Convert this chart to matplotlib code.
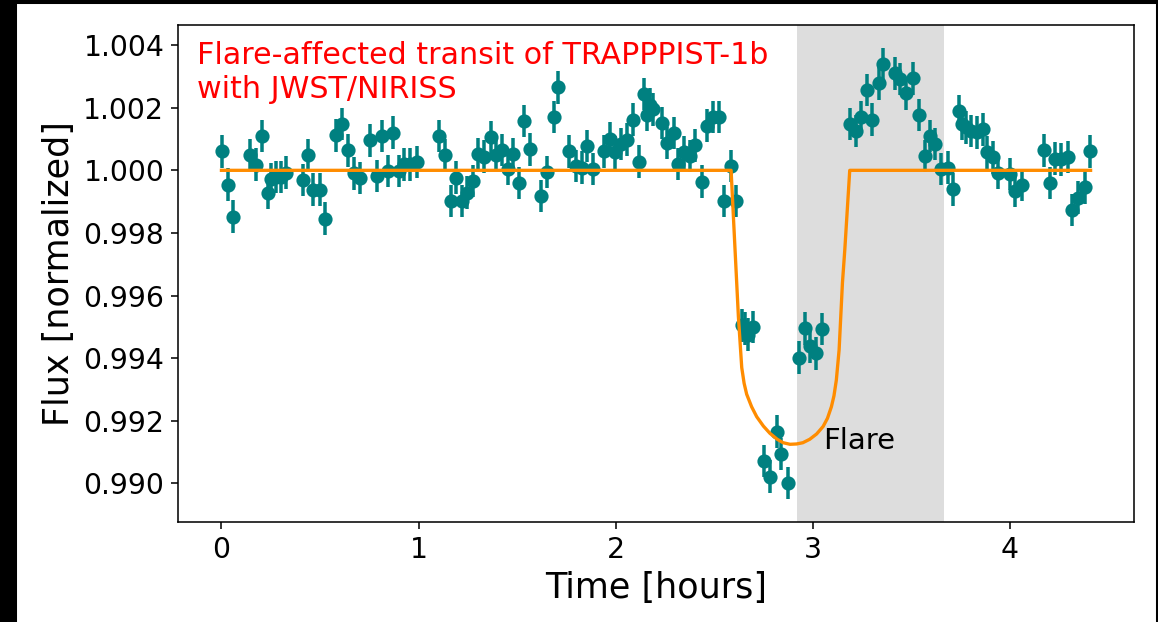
import matplotlib
matplotlib.use("Agg")
import matplotlib.pyplot as plt
from matplotlib.patches import Rectangle

time_hr = [
    0.004, 0.034, 0.059, 0.147, 0.177, 0.206, 0.236, 0.253, 0.278, 0.304,
    0.329, 0.413, 0.439, 0.467, 0.498, 0.523, 0.580, 0.612, 0.641, 0.672,
    0.702, 0.756, 0.788, 0.813, 0.844, 0.870, 0.902, 0.928, 0.958, 0.993,
    1.105, 1.134, 1.164, 1.191, 1.223, 1.248, 1.274, 1.302, 1.333, 1.366,
    1.395, 1.426, 1.454, 1.481, 1.510, 1.535, 1.565, 1.623, 1.653, 1.687,
    1.709, 1.761, 1.797, 1.830, 1.856, 1.886, 1.940, 1.974, 1.999, 2.028,
    2.058, 2.089, 2.119, 2.146, 2.161, 2.176, 2.191, 2.235, 2.260, 2.294,
    2.319, 2.348, 2.379, 2.404, 2.437, 2.463, 2.493, 2.527, 2.551, 2.585,
    2.611, 2.640, 2.655, 2.670, 2.699, 2.755, 2.783, 2.817, 2.839, 2.873,
    2.930, 2.960, 2.986, 3.016, 3.047, 3.188, 3.219, 3.247, 3.276, 3.303,
    3.337, 3.357, 3.416, 3.445, 3.475, 3.509, 3.537, 3.568, 3.593, 3.623,
    3.652, 3.685, 3.711, 3.740, 3.758, 3.779, 3.804, 3.833, 3.863, 3.883,
    3.914, 3.942, 4.001, 4.028, 4.060, 4.175, 4.204, 4.231, 4.259, 4.293,
    4.318, 4.344, 4.383, 4.406,
]
flux = [
    1.00061, 0.99954, 0.99852, 1.00049, 1.00018, 1.00110, 0.99929, 0.99971, 0.99978, 0.99978,
    0.99993, 0.99969, 1.00049, 0.99938, 0.99938, 0.99846, 1.00112, 1.00148, 1.00064, 0.99990,
    0.99975, 1.00096, 0.99982, 1.00110, 0.99998, 1.00120, 0.99998, 1.00019, 1.00019, 1.00026,
    1.00110, 1.00049, 0.99902, 0.99977, 0.99902, 0.99929, 0.99966, 1.00051, 1.00044, 1.00105,
    1.00049, 1.00065, 1.00004, 1.00052, 0.99959, 1.00157, 1.00067, 0.99918, 0.99995, 1.00171,
    1.00265, 1.00061, 1.00014, 1.00009, 1.00078, 1.00004, 1.00061, 1.00101, 1.00057, 1.00084,
    1.00098, 1.00162, 1.00028, 1.00244, 1.00178, 1.00210, 1.00195, 1.00151, 1.00087, 1.00119,
    1.00020, 1.00057, 1.00046, 1.00080, 0.99964, 1.00143, 1.00170, 1.00170, 0.99902, 1.00014,
    0.99902, 0.99505, 0.99495, 0.99475, 0.99500, 0.99072, 0.99022, 0.99165, 0.99094, 0.99001,
    0.99402, 0.99495, 0.99438, 0.99415, 0.99493, 1.00148, 1.00126, 1.00170, 1.00257, 1.00162,
    1.00278, 1.00340, 1.00310, 1.00291, 1.00246, 1.00294, 1.00177, 1.00046, 1.00110, 1.00084,
    1.00004, 1.00009, 0.99939, 1.00190, 1.00148, 1.00137, 1.00126, 1.00121, 1.00131, 1.00057,
    1.00041, 0.99991, 0.99988, 0.99934, 0.99953, 1.00064, 0.99960, 1.00037, 1.00035, 1.00043,
    0.99873, 0.99913, 0.99946, 1.00061,
]
flux_err = [0.00052] * len(flux)

# Transit model curve
model_time = [0.0, 2.586, 2.606, 2.623, 2.640, 2.652, 2.665, 2.690, 2.716, 2.750,
              2.783, 2.820, 2.850, 2.885, 2.918, 2.950, 2.985, 3.020, 3.053, 3.075,
              3.095, 3.108, 3.120, 3.134, 3.151, 3.163, 3.188, 4.410]
model_flux = [1.0, 1.0, 0.99747, 0.99533, 0.99370, 0.99320, 0.99285, 0.99245, 0.99213, 0.99183,
              0.99160, 0.99141, 0.99130, 0.99125, 0.99126, 0.99130, 0.99141, 0.99158, 0.99182, 0.99208,
              0.99245, 0.99280, 0.99330, 0.99426, 0.99641, 0.99747, 1.0, 1.0]

# Flare window (hours)
flare_start, flare_end = 2.920, 3.665


def main() -> None:
    fig, ax = plt.subplots(figsize=(1158 / 140, 622 / 140), dpi=140)
    fig.subplots_adjust(left=0.1537, right=0.9793, top=0.9598, bottom=0.1608)

    # black frame around the white canvas, as in the original screenshot
    fig.patch.set_facecolor("black")
    fig.add_artist(Rectangle((18 / 1158, 0), 1137 / 1158, 617 / 622,
                             transform=fig.transFigure, color="white", zorder=-1))

    ax.axvspan(flare_start, flare_end, color="#dddddd", lw=0, zorder=0)
    ax.errorbar(time_hr, flux, yerr=flux_err, fmt="o", color="teal",
                ms=6.3, elinewidth=1.8, zorder=2)
    ax.plot(model_time, model_flux, color="darkorange", lw=1.7, zorder=3)

    ax.text(0.02, 0.967, "Flare-affected transit of TRAPPPIST-1b\nwith JWST/NIRISS",
            transform=ax.transAxes, color="red", fontsize=15.5, ha="left", va="top")
    ax.text(3.055, 0.99135, "Flare", fontsize=15, ha="left", va="center")

    ax.set_xlabel("Time [hours]", fontsize=18)
    ax.set_ylabel("Flux [normalized]", fontsize=18)
    ax.tick_params(labelsize=14.5)
    ax.set_yticks([0.990, 0.992, 0.994, 0.996, 0.998, 1.000, 1.002, 1.004])
    ax.yaxis.set_major_formatter(matplotlib.ticker.FormatStrFormatter("%.3f"))

    plt.savefig("out.png", dpi=140)
    plt.close()


if __name__ == "__main__":
    main()
